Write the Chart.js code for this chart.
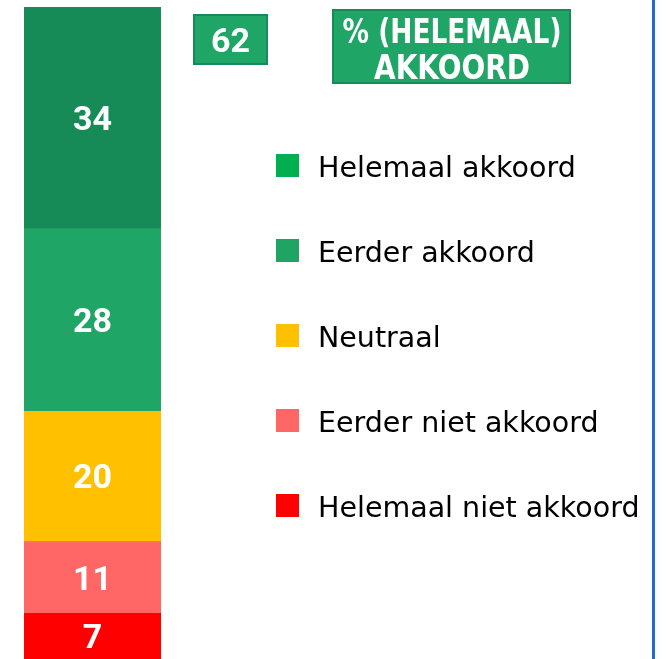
<!DOCTYPE html>
<html>
<head>
<meta charset="utf-8">
<script src="https://cdn.jsdelivr.net/npm/chart.js@4.4.1/dist/chart.umd.min.js"></script>
<style>
  html, body { margin: 0; padding: 0; background: #fff; }
  #wrap { position: relative; width: 666px; height: 659px; }
</style>
</head>
<body>
<div id="wrap"><canvas id="agreeChart"></canvas></div>
<script>
// answer categories, top of the bar first
const categories = ['Helemaal akkoord', 'Eerder akkoord', 'Neutraal', 'Eerder niet akkoord', 'Helemaal niet akkoord'];
const values = [34, 28, 20, 11, 7];
const barColors = ['#178b57', '#1fa566', '#ffc000', '#ff6666', '#ff0000'];
const legendColors = ['#00b050', '#1fa463', '#ffc000', '#ff6666', '#ff0000'];
const titleLines = ['% (HELEMAAL)', 'AKKOORD'];
const agreeTotal = values[0] + values[1];

// Chart.js stacks the first dataset at the bottom, so go in reverse
const datasets = categories.map((name, i) => ({
    label: name,
    data: [values[i]],
    backgroundColor: barColors[i],
    borderWidth: 0,
    barPercentage: 1,
    categoryPercentage: 1
})).reverse();

const overlay = {
    id: 'overlay',
    afterDatasetsDraw(chart) {
        const ctx = chart.ctx;
        ctx.save();
        ctx.fillStyle = '#fff';
        ctx.font = 'bold 34px Roboto';
        ctx.textAlign = 'center';
        ctx.textBaseline = 'alphabetic';
        chart.data.datasets.forEach((ds, i) => {
            const bar = chart.getDatasetMeta(i).data[0];
            const cy = (bar.y + bar.base) / 2;
            ctx.fillText(String(ds.data[0]), bar.x, cy + 12);
        });
        ctx.restore();
    },
    afterDraw(chart) {
        const ctx = chart.ctx;
        ctx.save();

        // total agree box
        ctx.fillStyle = '#1fa566';
        ctx.fillRect(193, 14, 75, 51);
        ctx.strokeStyle = '#178b57';
        ctx.lineWidth = 2;
        ctx.strokeRect(194, 15, 73, 49);
        ctx.fillStyle = '#fff';
        ctx.font = 'bold 34px Roboto';
        ctx.textAlign = 'center';
        ctx.fillText(String(agreeTotal), 230.5, 52);

        // title box
        ctx.fillStyle = '#1fa566';
        ctx.fillRect(332, 9, 239, 75);
        ctx.strokeRect(333, 10, 237, 73);
        ctx.fillStyle = '#fff';
        ctx.font = 'bold 34px "DejaVu Sans"';
        ctx.fillText(titleLines[0], 452, 43, 219);
        ctx.fillText(titleLines[1], 452, 79, 156);

        // legend
        ctx.textAlign = 'left';
        ctx.font = '28.5px "DejaVu Sans"';
        categories.forEach((name, i) => {
            const cy = 165.5 + i * 85;
            ctx.fillStyle = legendColors[i];
            ctx.fillRect(276, cy - 11.5, 23, 23);
            ctx.fillStyle = '#000';
            ctx.fillText(name, 318, cy + 11);
        });

        // blue frame line on the right
        ctx.fillStyle = '#1f6bd0';
        ctx.fillRect(652, 0, 3, 659);
        ctx.restore();
    }
};

new Chart(document.getElementById('agreeChart'), {
    type: 'bar',
    data: { labels: [''], datasets: datasets },
    options: {
        responsive: true,
        maintainAspectRatio: false,
        animation: false,
        layout: { padding: { left: 24, right: 505, top: 7, bottom: 0 } },
        scales: {
            x: { stacked: true, display: false },
            y: { stacked: true, display: false, min: 0, max: 100 }
        },
        plugins: {
            legend: { display: false },
            tooltip: { enabled: false }
        }
    },
    plugins: [overlay]
});
</script>
</body>
</html>
